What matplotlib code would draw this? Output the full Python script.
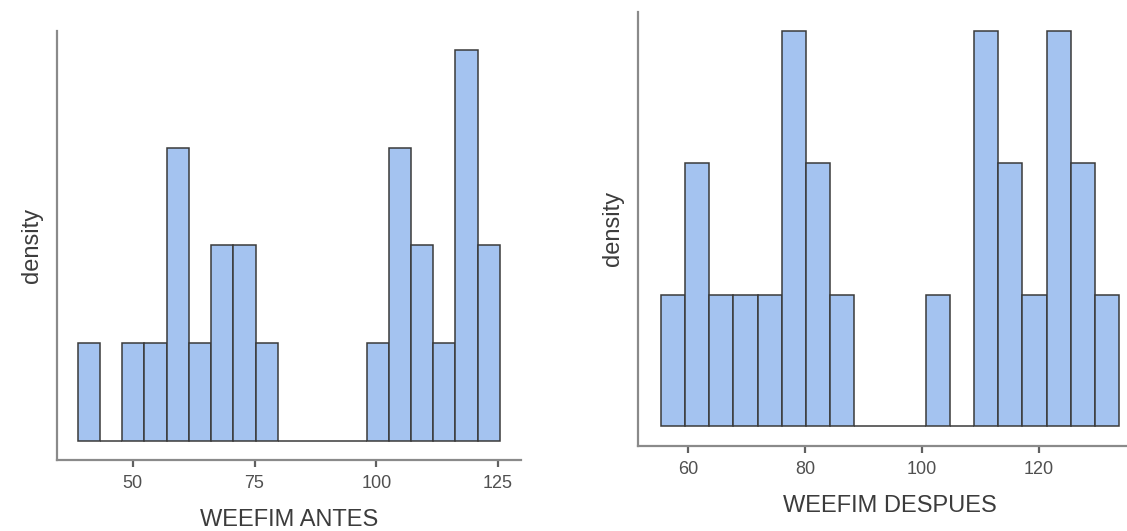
import numpy as np
import matplotlib
matplotlib.use("Agg")
import matplotlib.pyplot as plt

plt.rcParams['font.family'] = ['Liberation Sans', 'DejaVu Sans']

# WEEFIM ANTES: 19 bins, counts per bin
antes_start = 38.73
antes_width = 4.56
antes_counts = [1, 0, 1, 1, 3, 1, 2, 2, 1, 0, 0, 0, 0, 1, 3, 2, 1, 4, 2]
antes_ticks = [50, 75, 100, 125]

# WEEFIM DESPUES: 19 bins, counts per bin
despues_start = 55.46
despues_width = 4.113
despues_counts = [1, 2, 1, 1, 1, 3, 2, 1, 0, 0, 0, 1, 0, 3, 2, 1, 3, 2, 1]
despues_ticks = [60, 80, 100, 120]

fill = '#a4c3f0'
edge = '#3a3a3a'
axis_col = '#8a8a8a'


def histo(ax, start, width, counts, ticks, label):
    n = len(counts)
    edges = start + width * np.arange(n + 1)
    centers = (edges[:-1] + edges[1:]) / 2
    d, _, _ = ax.hist(centers, bins=edges, weights=counts, density=True,
                      color=fill, edgecolor=edge, linewidth=1.1)
    span = edges[-1] - edges[0]
    ax.set_xlim(edges[0] - 0.05 * span, edges[-1] + 0.05 * span)
    top = max(d)
    ax.set_ylim(-0.05 * top, 1.05 * top)
    ax.set_xticks(ticks)
    ax.set_yticks([])
    for s in ['top', 'right']:
        ax.spines[s].set_visible(False)
    for s in ['left', 'bottom']:
        ax.spines[s].set_color(axis_col)
        ax.spines[s].set_linewidth(1.6)
    ax.tick_params(axis='x', colors='#505050', labelsize=13, length=5,
                   width=1.6, pad=6)
    ax.tick_params(axis='x', color='#606060')
    ax.set_xlabel(label, fontsize=17, color='#3c3c3c', labelpad=12)
    ax.set_ylabel('density', fontsize=17, color='#3c3c3c', labelpad=10)


fig = plt.figure(figsize=(11.27, 5.31), dpi=100)
ax1 = fig.add_axes([0.0503, 0.1337, 0.412, 0.808])
ax2 = fig.add_axes([0.5664, 0.1601, 0.4466, 0.818])

histo(ax1, antes_start, antes_width, antes_counts, antes_ticks, 'WEEFIM ANTES')
histo(ax2, despues_start, despues_width, despues_counts, despues_ticks, 'WEEFIM DESPUES')

fig.savefig('out.png', dpi=100)
